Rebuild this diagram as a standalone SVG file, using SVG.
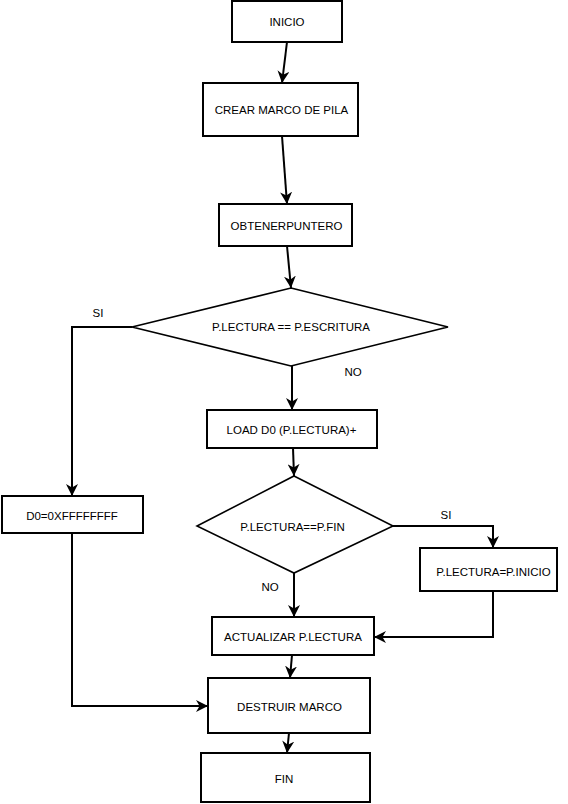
<svg xmlns="http://www.w3.org/2000/svg" width="568" height="804" viewBox="0 0 568 804">
<style>
.box{fill:#fff;stroke:#000;stroke-width:2}
.dia{fill:#fff;stroke:#000;stroke-width:1.6}
.lbl{font-family:"Liberation Sans",Arial,sans-serif;font-size:11.5px;fill:#000;text-anchor:middle;dominant-baseline:central}
.edge{fill:none;stroke:#000;stroke-width:2;marker-end:url(#arr)}
</style>
<defs>
<marker id="arr" markerUnits="userSpaceOnUse" markerWidth="12" markerHeight="12" refX="10" refY="5" orient="auto" viewBox="0 0 10 10">
<path d="M0,0 L10,5 L0,10 L3,5 Z" fill="#000"/>
</marker>
</defs>
<rect width="568" height="804" fill="#fff"/>
<g id="connectors">
<path class="edge" d="M287,42 L282,83"/>
<path class="edge" d="M282,136 L287,204"/>
<path class="edge" d="M287,246 L291,288"/>
<path class="edge" d="M132,327 L72,327 L72,496"/>
<path class="edge" d="M292,366 L292,410"/>
<path class="edge" d="M293,448 L294,476"/>
<path class="edge" d="M393,526 L493,526 L493,548"/>
<path class="edge" d="M294,573 L294,617"/>
<path class="edge" d="M493,591 L493,637 L374,637"/>
<path class="edge" d="M292,655 L290,678"/>
<path class="edge" d="M72,533 L72,706 L208,706"/>
<path class="edge" d="M289,733 L287,753"/>
<text class="lbl" x="98" y="313">SI</text>
<text class="lbl" x="353" y="372">NO</text>
<text class="lbl" x="446" y="515">SI</text>
<text class="lbl" x="270" y="587">NO</text>
</g>
<g id="inicio"><rect class="box" x="232" y="1" width="110" height="41"/><text class="lbl" x="287" y="22">INICIO</text></g>
<g id="crear"><rect class="box" x="203" y="83" width="155" height="53"/><text class="lbl" x="281.5" y="110">CREAR MARCO DE PILA</text></g>
<g id="obtener"><rect class="box" x="219" y="204" width="133" height="42"/><text class="lbl" x="286.5" y="226">OBTENERPUNTERO</text></g>
<g id="dec1"><polygon class="dia" points="291,288 448,327 291,366 132,327"/><text class="lbl" x="291" y="327">P.LECTURA == P.ESCRITURA</text></g>
<g id="d0"><rect class="box" x="2" y="496" width="141" height="37"/><text class="lbl" x="72" y="516">D0=0XFFFFFFFF</text></g>
<g id="load"><rect class="box" x="207" y="410" width="170" height="38"/><text class="lbl" x="291.5" y="429.5">LOAD D0 (P.LECTURA)+</text></g>
<g id="dec2"><polygon class="dia" points="294,476 393,526 294,573 197,526"/><text class="lbl" x="292.5" y="526.5">P.LECTURA==P.FIN</text></g>
<g id="pinicio"><rect class="box" x="420" y="548" width="137" height="43"/><text class="lbl" x="493.5" y="571.5">P.LECTURA=P.INICIO</text></g>
<g id="actualizar"><rect class="box" x="212" y="617" width="162" height="38"/><text class="lbl" x="293" y="636.5">ACTUALIZAR P.LECTURA</text></g>
<g id="destruir"><rect class="box" x="208" y="678" width="162" height="55"/><text class="lbl" x="289.5" y="706.5">DESTRUIR MARCO</text></g>
<g id="fin"><rect class="box" x="201" y="753" width="169" height="49"/><text class="lbl" x="284" y="778.5">FIN</text></g>
</svg>
